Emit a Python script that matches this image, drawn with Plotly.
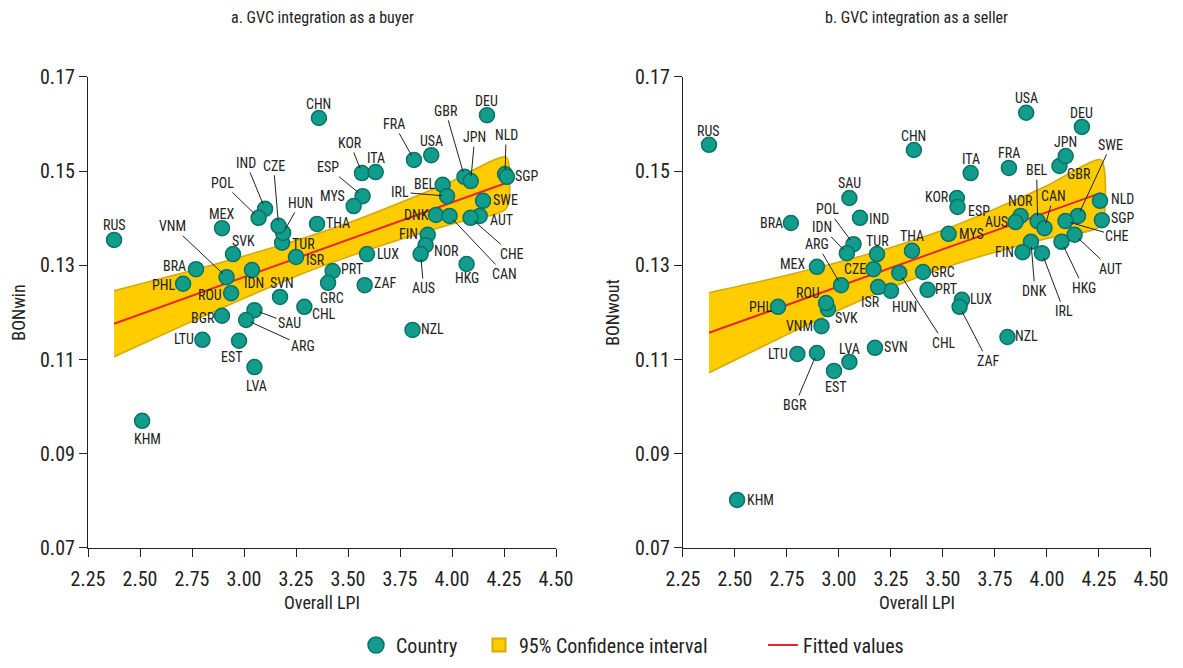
import plotly.graph_objects as go

# Countries and values
countries = ["RUS", "CHN", "DEU", "FRA", "USA", "GBR", "JPN", "NLD", "SGP", "KOR",
             "ITA", "ESP", "MYS", "BEL", "IRL", "SWE", "AUT", "CHE", "DNK", "CAN",
             "FIN", "NOR", "AUS", "HKG", "LUX", "THA", "ZAF", "PRT", "GRC", "CHL",
             "NZL", "ISR", "TUR", "HUN", "CZE", "IND", "POL", "MEX", "SVK", "BRA",
             "VNM", "IDN", "PHL", "ROU", "SVN", "BGR", "SAU", "ARG", "LTU", "EST",
             "LVA", "KHM"]
lpi = [2.375, 3.36, 4.168, 3.817, 3.90, 4.06, 4.09, 4.255, 4.264, 3.567,
       3.633, 3.57, 3.527, 3.955, 3.976, 4.149, 4.133, 4.089, 3.923, 3.988,
       3.883, 3.873, 3.849, 4.07, 3.591, 3.351, 3.58, 3.426, 3.404, 3.29,
       3.81, 3.25, 3.183, 3.188, 3.166, 3.101, 3.07, 2.894, 2.947, 2.769,
       2.916, 3.038, 2.707, 2.938, 3.173, 2.894, 3.05, 3.01, 2.80, 2.976,
       3.05, 2.51]
bon_win = [0.1354, 0.1613, 0.1619, 0.1524, 0.1534, 0.1488, 0.1479, 0.1494, 0.1488, 0.1496,
           0.1498, 0.1447, 0.1426, 0.1471, 0.1447, 0.1437, 0.1405, 0.1401, 0.1407, 0.1405,
           0.1365, 0.1343, 0.1324, 0.1303, 0.1324, 0.1388, 0.1258, 0.1288, 0.1263, 0.1212,
           0.1163, 0.1318, 0.1348, 0.1369, 0.1384, 0.1420, 0.1401, 0.1379, 0.1324, 0.1292,
           0.1275, 0.1290, 0.1261, 0.1241, 0.1233, 0.1193, 0.1205, 0.1184, 0.1142, 0.1140,
           0.1084, 0.0970]
bon_wout = [0.1556, 0.1545, 0.1594, 0.1507, 0.1624, 0.1511, 0.1532, 0.1437, 0.1396, 0.1443,
            0.1496, 0.1424, 0.1367, 0.1394, 0.1326, 0.1405, 0.1365, 0.1394, 0.1350, 0.1379,
            0.1328, 0.1405, 0.1392, 0.1350, 0.1227, 0.1331, 0.1212, 0.1248, 0.1286, 0.1284,
            0.1148, 0.1246, 0.1324, 0.1254, 0.1292, 0.1401, 0.1345, 0.1297, 0.1207, 0.1390,
            0.1171, 0.1326, 0.1212, 0.1220, 0.1125, 0.1114, 0.1443, 0.1258, 0.1112, 0.1076,
            0.1095, 0.0802]

# fitted line and 95% confidence band
fit_x = [2.375, 4.26]
win_fit = [0.1176, 0.1475]
wout_fit = [0.1157, 0.1454]
ci_x = [2.375, 2.75, 3.0, 3.25, 3.5, 3.75, 4.0, 4.26]
win_lo = [0.1106, 0.1181, 0.1230, 0.1277, 0.1318, 0.1355, 0.1388, 0.1420]
win_hi = [0.1246, 0.1289, 0.1320, 0.1353, 0.1390, 0.1433, 0.1479, 0.1530]
wout_lo = [0.1072, 0.1153, 0.1205, 0.1253, 0.1294, 0.1328, 0.1357, 0.1384]
wout_hi = [0.1242, 0.1279, 0.1307, 0.1338, 0.1375, 0.1420, 0.1469, 0.1524]

# label offsets in pixels from each point (dx, dy, leader line)
left_lab = {
    "RUS": (0, -15, 0), "CHN": (0, -14, 0), "DEU": (0, -14, 0), "FRA": (-20, -36, 1),
    "USA": (0, -14, 0), "GBR": (-19, -66, 1), "JPN": (4, -44, 1), "NLD": (1, -39, 1),
    "SGP": (20, -1, 0), "KOR": (-12, -30, 1), "ITA": (0, -14, 0), "ESP": (-35, -29, 1),
    "MYS": (-21, -10, 0), "BEL": (-18, -1, 0), "IRL": (-47, -4, 1), "SWE": (22, -1, 0),
    "AUT": (22, 4, 0), "CHE": (41, 36, 1), "DNK": (-20, 0, 0), "CAN": (55, 58, 1),
    "FIN": (-19, -1, 0), "NOR": (21, 6, 0), "AUS": (3, 34, 1), "HKG": (0, 14, 0),
    "LUX": (21, 0, 0), "THA": (21, -1, 0), "ZAF": (20, -2, 0), "PRT": (19, -2, 0),
    "GRC": (4, 15, 0), "CHL": (20, 7, 0), "NZL": (20, -1, 0), "ISR": (19, 3, 0),
    "TUR": (21, 1, 0), "HUN": (17, -30, 1), "CZE": (-5, -60, 1), "IND": (-19, -46, 1),
    "POL": (-36, -35, 1), "MEX": (0, -14, 0), "SVK": (10, -13, 0), "BRA": (-21, -3, 0),
    "VNM": (-54, -51, 1), "IDN": (2, 13, 0), "PHL": (-20, 1, 0), "ROU": (-21, 2, 0),
    "SVN": (2, -14, 0), "BGR": (-19, 2, 0), "SAU": (35, 13, 1), "ARG": (57, 26, 1),
    "LTU": (-18, -1, 0), "EST": (-7, 16, 0), "LVA": (2, 19, 0), "KHM": (5, 18, 0),
}
right_lab = {
    "RUS": (0, -14, 0), "CHN": (0, -14, 0), "USA": (0, -15, 0), "DEU": (0, -14, 0),
    "JPN": (0, -14, 0), "GBR": (20, 8, 0), "ITA": (0, -14, 0), "FRA": (0, -15, 0),
    "KOR": (-20, -1, 0), "ESP": (21, 4, 0), "SWE": (33, -71, 1), "BEL": (-1, -51, 1),
    "CAN": (9, -32, 1), "NOR": (0, -15, 0), "AUS": (-19, 0, 0), "NLD": (22, -2, 0),
    "SGP": (21, -2, 0), "CHE": (52, 15, 1), "AUT": (36, 34, 1), "HKG": (22, 46, 1),
    "IRL": (22, 58, 1), "DNK": (4, 49, 1), "FIN": (-18, 0, 0), "MYS": (23, 0, 0),
    "THA": (0, -15, 0), "GRC": (20, 0, 0), "PRT": (18, -1, 0), "LUX": (19, -1, 0),
    "ZAF": (28, 54, 1), "NZL": (19, -1, 0), "CHL": (45, 70, 1), "HUN": (26, 20, 0),
    "ISR": (-20, 11, 0), "TUR": (0, -13, 0), "CZE": (-19, 0, 0), "IDN": (-25, -26, 1),
    "POL": (-26, -35, 1), "SAU": (0, -15, 0), "IND": (19, 1, 0), "BRA": (-19, 0, 0),
    "MEX": (-24, -3, 0), "ARG": (-24, -41, 1), "ROU": (-18, -10, 0), "SVK": (19, 9, 0),
    "VNM": (-22, 0, 0), "PHL": (-18, 0, 0), "LTU": (-19, 0, 0), "BGR": (-22, 52, 1),
    "EST": (2, 16, 0), "LVA": (0, -13, 0), "SVN": (21, -1, 0), "KHM": (23, 0, 0),
}

FONT = "Liberation Sans Narrow, Roboto Condensed, Arial Narrow, Roboto, sans-serif"
TEAL = "#119C8C"
TEAL_DARK = "#0A7266"
GOLD = "#FFCC00"
GOLD_DARK = "#D6AA00"
RED = "#E8262E"
INK = "#222"

fig = go.Figure()

panels = [("x", "y", bon_win, win_lo, win_hi, win_fit, left_lab),
          ("x2", "y2", bon_wout, wout_lo, wout_hi, wout_fit, right_lab)]

for xa, ya, vals, lo, hi, fit, labs in panels:
    fig.add_trace(go.Scatter(
        x=ci_x + ci_x[::-1], y=hi + lo[::-1], xaxis=xa, yaxis=ya,
        fill="toself", fillcolor=GOLD, mode="lines",
        line=dict(color=GOLD_DARK, width=1.5, shape="spline", smoothing=0.6),
        showlegend=False, hoverinfo="skip"))
    fig.add_trace(go.Scatter(
        x=fit_x, y=fit, xaxis=xa, yaxis=ya, mode="lines",
        line=dict(color=RED, width=2), showlegend=False))
    fig.add_trace(go.Scatter(
        x=lpi, y=vals, xaxis=xa, yaxis=ya, mode="markers",
        marker=dict(size=15, color=TEAL, line=dict(color=TEAL_DARK, width=1.5)),
        text=countries, showlegend=False))

    for c, xv, yv in zip(countries, lpi, vals):
        dx, dy, line = labs[c]
        if line:
            fig.add_annotation(x=xv, y=yv, xref=xa, yref=ya, text=c,
                               showarrow=True, ax=dx, ay=dy, arrowhead=0,
                               arrowwidth=1, arrowcolor=INK, standoff=5,
                               font=dict(family=FONT, size=14, color=INK))
        else:
            fig.add_annotation(x=xv, y=yv, xref=xa, yref=ya, text=c,
                               showarrow=False, xshift=dx, yshift=-dy,
                               font=dict(family=FONT, size=14, color=INK))

# legend entries, each in its own legend box so they can be spaced like the original
fig.add_trace(go.Scatter(x=[None], y=[None], mode="markers", name="Country",
                         marker=dict(size=17, color=TEAL, line=dict(color=TEAL_DARK, width=1.5)),
                         legend="legend"))
fig.add_trace(go.Scatter(x=[None], y=[None], mode="markers", name="95% Confidence interval",
                         marker=dict(size=13, symbol="square", color=GOLD,
                                     line=dict(color=GOLD_DARK, width=2)),
                         legend="legend2"))
fig.add_trace(go.Scatter(x=[None], y=[None], mode="lines", name="Fitted values",
                         line=dict(color=RED, width=2), legend="legend3"))

axis_common = dict(showline=True, linecolor=INK, linewidth=1.3, ticks="outside",
                   ticklen=8, tickcolor=INK, showgrid=False, zeroline=False,
                   automargin=False,
                   tickfont=dict(family=FONT, size=20, color=INK),
                   title_font=dict(family=FONT, size=18, color=INK))

x_ticks = [2.25, 2.5, 2.75, 3.0, 3.25, 3.5, 3.75, 4.0, 4.25, 4.5]
y_ticks = [0.07, 0.09, 0.11, 0.13, 0.15, 0.17]
leg_font = dict(family=FONT, size=20, color=INK)
leg_y = 0.023

# the page body adds an 8px offset, so the figure is a little smaller than the window
fig.update_layout(
    width=1167, height=652,
    margin=dict(l=0, r=0, t=0, b=0, autoexpand=False),
    paper_bgcolor="white", plot_bgcolor="white",
    font=dict(family=FONT, color=INK),
    xaxis=dict(domain=[0.0686, 0.4696], range=[2.25, 4.5], tickvals=x_ticks,
               tickformat=".2f", title_text="Overall LPI", title_standoff=6,
               ticklabelstandoff=5, anchor="y", **axis_common),
    yaxis=dict(domain=[0.1718, 0.8942], range=[0.07, 0.17], tickvals=y_ticks,
               tickformat=".2f", title_text="BONwin", title_standoff=10,
               anchor="x", **axis_common),
    xaxis2=dict(domain=[0.5784, 0.9794], range=[2.25, 4.5], tickvals=x_ticks,
                tickformat=".2f", title_text="Overall LPI", title_standoff=6,
                ticklabelstandoff=5, anchor="y2", **axis_common),
    yaxis2=dict(domain=[0.1718, 0.8942], range=[0.07, 0.17], tickvals=y_ticks,
                tickformat=".2f", title_text="BONwout", title_standoff=10,
                anchor="x2", **axis_common),
    legend=dict(x=0.2982, xanchor="left", y=leg_y, yanchor="middle", font=leg_font,
                bgcolor="rgba(0,0,0,0)"),
    legend2=dict(x=0.4036, xanchor="left", y=leg_y, yanchor="middle", font=leg_font,
                 bgcolor="rgba(0,0,0,0)"),
    legend3=dict(x=0.647, xanchor="left", y=leg_y, yanchor="middle", font=leg_font,
                 bgcolor="rgba(0,0,0,0)"),
    showlegend=True,
)

fig.add_annotation(x=0.2691, y=0.9847, xref="paper", yref="paper", showarrow=False,
                   xanchor="center", yanchor="middle",
                   text="a. GVC integration as a buyer",
                   font=dict(family=FONT, size=16, color=INK))
fig.add_annotation(x=0.7789, y=0.9847, xref="paper", yref="paper", showarrow=False,
                   xanchor="center", yanchor="middle",
                   text="b. GVC integration as a seller",
                   font=dict(family=FONT, size=16, color=INK))

fig.write_html("out.html")
